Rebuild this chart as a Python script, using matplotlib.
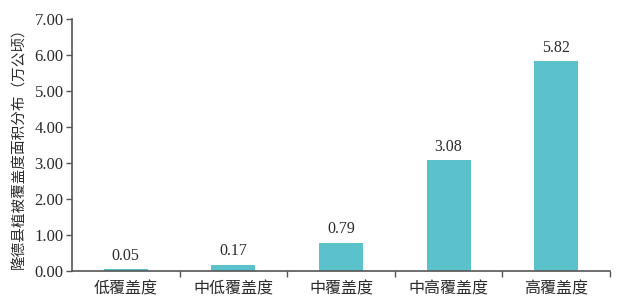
import matplotlib.pyplot as plt

categories = ["低覆盖度", "中低覆盖度", "中覆盖度", "中高覆盖度", "高覆盖度"]
values = [0.05, 0.17, 0.79, 3.08, 5.82]
yticks = [0, 1, 2, 3, 4, 5, 6, 7]

num_font = "Liberation Serif"
cjk_font = ["Noto Sans CJK SC", "DejaVu Sans"]
axis_color = "#555555"
text_color = "#2a2a2a"

fig = plt.figure(figsize=(6.17, 3.02), dpi=100)
ax = fig.add_axes([0.1167, 0.1026, 0.872, 0.835])

x = range(len(categories))
bars = ax.bar(x, values, width=0.41, color="#5bc2cc")

for i, v in zip(x, values):
    ax.text(i, v + 0.15, f"{v:.2f}", ha="center", va="bottom",
            fontsize=11.5, family=num_font, color=text_color)

ax.set_xlim(-0.5, len(categories) - 0.5)
ax.set_ylim(0, 7)
ax.set_yticks(yticks)
ax.set_yticklabels([f"{t:.2f}" for t in yticks], family=num_font, fontsize=12)

# ticks at category boundaries, labels at centres
ax.set_xticks([i + 0.5 for i in range(len(categories))])
ax.set_xticklabels([])
ax.set_xticks(list(x), minor=True)
ax.set_xticklabels(categories, minor=True, family=cjk_font, fontsize=11.5, color=text_color)
ax.tick_params(axis="x", which="minor", length=0, pad=7)
ax.tick_params(axis="x", which="major", length=4, width=1, color=axis_color, direction="out")
ax.tick_params(axis="y", length=4, width=1, color=axis_color, labelcolor=text_color, pad=2)

for s in ["top", "right"]:
    ax.spines[s].set_visible(False)
for s in ["left", "bottom"]:
    ax.spines[s].set_color(axis_color)
    ax.spines[s].set_linewidth(1.2)

ax.set_ylabel("隆德县植被覆盖度面积分布（万公顷）", family=cjk_font, fontsize=10.5,
              color=text_color, labelpad=6)

fig.savefig("out.png", dpi=100)
